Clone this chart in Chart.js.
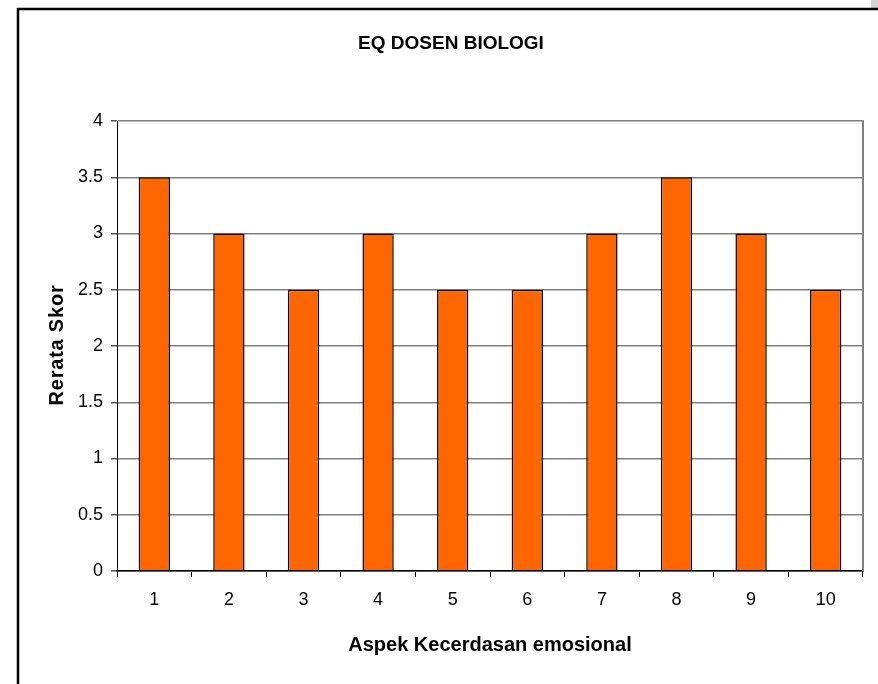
<!DOCTYPE html>
<html lang="en">
  <head>
    <meta charset="UTF-8" />
    <title>EQ Dosen Biologi</title>
  </head>
  <style>
    * {
      margin: 0;
      padding: 0;
    }
    body {
      background: white;
      width: 878px;
      height: 684px;
      overflow: hidden;
    }
  </style>
  <body>
    <canvas id="myChart" width="878" height="684"></canvas>

    <script src="https://cdn.jsdelivr.net/npm/chart.js"></script>

    <script>
      const aspek = ["1", "2", "3", "4", "5", "6", "7", "8", "9", "10"];
      const rerataSkor = [3.5, 3, 2.5, 3, 2.5, 2.5, 3, 3.5, 3, 2.5];
      const chartTitle = "EQ DOSEN BIOLOGI";
      const xTitle = "Aspek Kecerdasan emosional";
      const yTitle = "Rerata Skor";

      const fontName = "'Liberation Sans', Arial, sans-serif";

      // frame, plot border and titles
      const decorations = {
        id: "decorations",
        beforeDraw(chart) {
          const c = chart.ctx;
          c.save();
          c.fillStyle = "#d4d4d4";
          c.fillRect(871, 0, 7, 8);
          c.strokeStyle = "#000";
          c.lineWidth = 2.5;
          c.beginPath();
          c.moveTo(18, 684);
          c.lineTo(18, 9);
          c.lineTo(878, 9);
          c.stroke();
          c.restore();
        },
        afterDraw(chart) {
          const c = chart.ctx;
          const a = chart.chartArea;
          c.save();
          // right edge of the plot
          c.strokeStyle = "#808080";
          c.lineWidth = 2;
          c.beginPath();
          c.moveTo(a.right, a.top - 0.75);
          c.lineTo(a.right, a.bottom);
          c.stroke();

          c.fillStyle = "#000";
          c.textAlign = "center";
          c.textBaseline = "middle";
          c.font = "bold 19px " + fontName;
          c.fillText(chartTitle, 451, 44);
          c.font = "bold 20px " + fontName;
          c.fillText(xTitle, (a.left + a.right) / 2, 645);
          c.letterSpacing = "0.8px";
          c.translate(57, (a.top + a.bottom) / 2 - 1);
          c.rotate(-Math.PI / 2);
          c.fillText(yTitle, 0, 0);
          c.restore();
        }
      };

      const data = {
        labels: aspek,
        datasets: [
          {
            label: yTitle,
            data: rerataSkor,
            backgroundColor: "#ff6600",
            borderColor: "#000",
            borderWidth: 1.5,
            barPercentage: 0.42,
            categoryPercentage: 1
          }
        ]
      };

      const config = {
        type: "bar",
        data,
        options: {
          responsive: false,
          animation: false,
          layout: {
            padding: { left: 0, top: 121, right: 15, bottom: 0 }
          },
          plugins: {
            legend: { display: false },
            tooltip: { enabled: false }
          },
          scales: {
            x: {
              afterFit(scale) {
                scale.height = 113;
              },
              grid: {
                offset: true,
                drawOnChartArea: false,
                tickLength: 6,
                tickColor: "#000"
              },
              border: { color: "#000", width: 1.5 },
              ticks: {
                color: "#000",
                padding: 12,
                font: { family: fontName, size: 18 }
              }
            },
            y: {
              min: 0,
              max: 4,
              afterFit(scale) {
                scale.width = 117;
              },
              grid: {
                color: "#808080",
                lineWidth: 1.5,
                tickLength: 6,
                tickColor: "#555"
              },
              border: { color: "#000", width: 1 },
              ticks: {
                stepSize: 0.5,
                color: "#000",
                padding: 8,
                font: { family: fontName, size: 18 },
                callback: (value) => String(value)
              }
            }
          }
        },
        plugins: [decorations]
      };

      const myChart = new Chart(document.getElementById("myChart"), config);
    </script>
  </body>
</html>
